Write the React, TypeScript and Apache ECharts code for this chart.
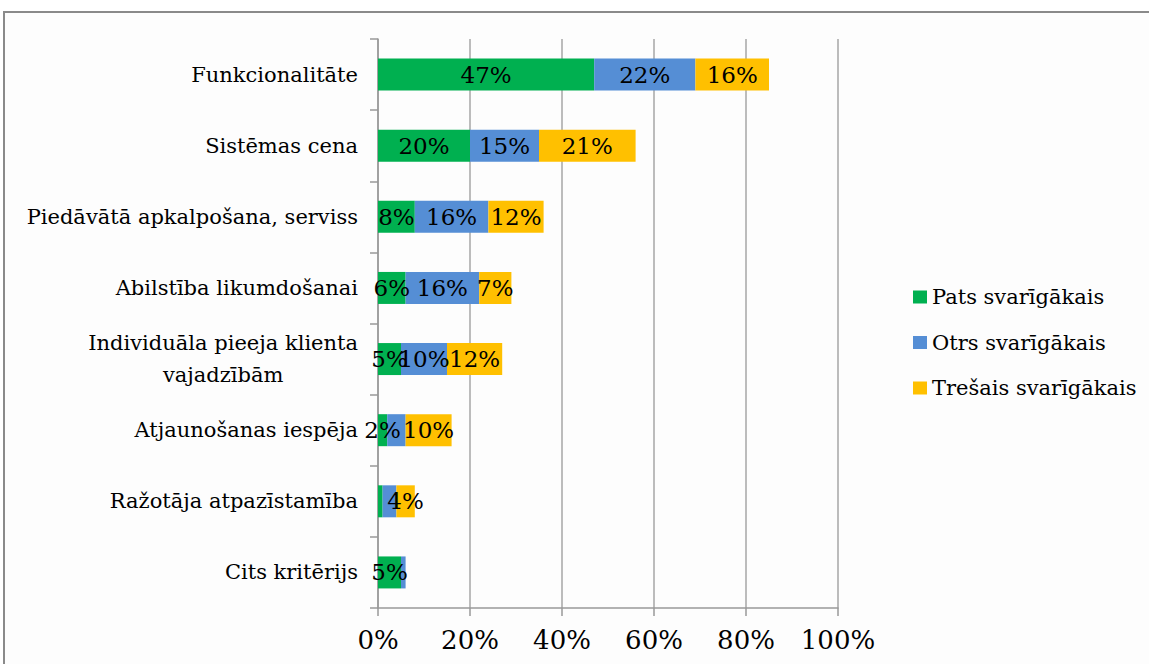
import React, { useEffect, useRef } from "react";
import * as echarts from "echarts";

const categories = [
  "Funkcionalitāte",
  "Sistēmas cena",
  "Piedāvātā apkalpošana, serviss",
  "Abilstība likumdošanai",
  "Individuāla pieeja klienta\nvajadzībām",
  "Atjaunošanas iespēja",
  "Ražotāja atpazīstamība",
  "Cits kritērijs",
];
const seriesNames = ["Pats svarīgākais", "Otrs svarīgākais", "Trešais svarīgākais"];
const pats = [47, 20, 8, 6, 5, 2, 1, 5];
const otrs = [22, 15, 16, 16, 10, 4, 3, 1];
const tresais = [16, 21, 12, 7, 12, 10, 4, 0];
// indices of categories whose data label is not shown, per series
const hiddenPats = [6];
const hiddenOtrs = [5, 6, 7];
const hiddenTresais = [7];
const xTicks = [0, 20, 40, 60, 80, 100];
const colors = ["#00B050", "#558ED5", "#FFC000"];

const FONT = "DejaVu Serif";

export default function App() {
  const ref = useRef<HTMLDivElement>(null);
  useEffect(() => {
    if (!ref.current) return;
    const chart = echarts.init(ref.current, null, { renderer: "svg" });
    const build = (vals: number[], hidden: number[], name: string, color: string) => ({
      name,
      type: "bar",
      stack: "total",
      barWidth: 32,
      itemStyle: { color },
      label: {
        show: true,
        position: "inside",
        color: "#000",
        fontFamily: FONT,
        fontSize: 23,
        formatter: (p: any) => `${p.value}%`,
      },
      data: vals.map((v, i) =>
        hidden.includes(i) ? { value: v, label: { show: false } } : { value: v }
      ),
    });
    chart.setOption({
      animation: false,
      backgroundColor: "#ffffff",
      textStyle: { fontFamily: FONT },
      graphic: [
        {
          type: "rect",
          shape: { x: 4, y: 12, width: 1300, height: 800 },
          style: { fill: "#fdfdfd", stroke: "#8a8a8a", lineWidth: 2 },
          z: -10,
          silent: true,
        },
      ],
      grid: { left: 378, top: 39, right: 311, bottom: 56, containLabel: false },
      legend: {
        orient: "vertical",
        left: 908,
        top: 279,
        itemWidth: 14,
        itemHeight: 13,
        itemGap: 19.5,
        icon: "rect",
        data: seriesNames,
        textStyle: { fontFamily: FONT, fontSize: 21, color: "#000", lineHeight: 26 },
      },
      xAxis: {
        type: "value",
        min: 0,
        max: 100,
        interval: 20,
        axisLine: { show: true, lineStyle: { color: "#999", width: 1.5 } },
        axisTick: { show: true, length: 8, lineStyle: { color: "#999", width: 1.5 } },
        splitLine: { show: true, lineStyle: { color: "#a6a6a6", width: 1.5 } },
        axisLabel: {
          margin: 19,
          fontFamily: FONT,
          fontSize: 26,
          color: "#000",
          formatter: (v: number) => (xTicks.includes(v) ? `${v}%` : ""),
        },
      },
      yAxis: {
        type: "category",
        inverse: true,
        data: categories,
        axisLine: { show: true, lineStyle: { color: "#999", width: 1.5 } },
        axisTick: { show: true, length: 8, lineStyle: { color: "#999", width: 1.5 } },
        axisLabel: {
          margin: 20,
          fontFamily: FONT,
          fontSize: 21,
          color: "#000",
          lineHeight: 32,
          formatter: (v: string) =>
            v.includes("\n")
              ? v
                  .split("\n")
                  .map((l) => `{c|${l}}`)
                  .join("\n")
              : v,
          rich: {
            c: { align: "center", fontFamily: FONT, fontSize: 21, color: "#000", lineHeight: 32 },
          },
        },
      },
      series: [
        build(pats, hiddenPats, seriesNames[0], colors[0]),
        build(otrs, hiddenOtrs, seriesNames[1], colors[1]),
        build(tresais, hiddenTresais, seriesNames[2], colors[2]),
      ],
    });
    return () => chart.dispose();
  }, []);
  return (
    <div
      ref={ref}
      style={{ position: "absolute", left: 0, top: 0, width: 1149, height: 664 }}
    />
  );
}
